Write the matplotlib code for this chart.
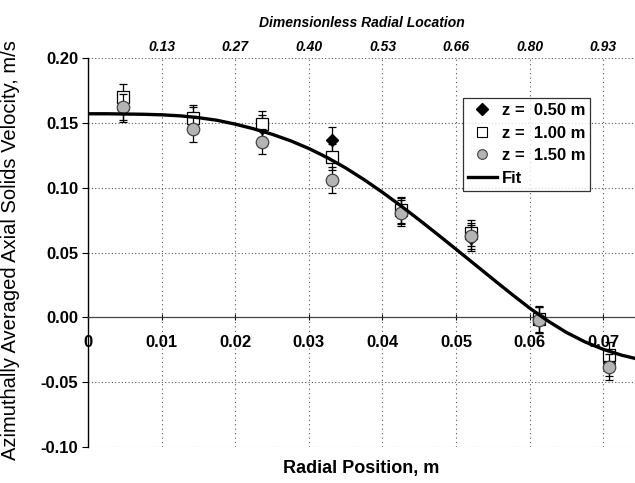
import matplotlib
matplotlib.use("Agg")
import matplotlib.pyplot as plt
from matplotlib.lines import Line2D

plt.rcParams['font.family'] = ['Liberation Sans', 'DejaVu Sans']

# radial positions of the measurement ports (m)
r_pos = [0.0048, 0.0143, 0.0237, 0.0331, 0.0425, 0.0520, 0.0613, 0.0708]

# azimuthally averaged axial solids velocity (m/s) at three heights
v_z050 = [0.161, 0.152, 0.146, 0.1366, 0.082, 0.061, -0.002, -0.035]
v_z100 = [0.170, 0.154, 0.149, 0.1237, 0.083, 0.065, -0.001, -0.0293]
v_z150 = [0.162, 0.145, 0.1356, 0.1057, 0.0805, 0.0625, -0.002, -0.038]
err = 0.01

# fitted profile
r_fit = [0.0, 0.0025, 0.005, 0.0075, 0.01, 0.0125, 0.015, 0.0175, 0.02, 0.0225,
         0.025, 0.0275, 0.03, 0.0325, 0.035, 0.0375, 0.04, 0.0425, 0.045, 0.0475,
         0.05, 0.0525, 0.055, 0.0575, 0.06, 0.0625, 0.065, 0.0675, 0.07, 0.0725, 0.075]
v_fit = [0.1570, 0.1570, 0.1568, 0.1566, 0.1562, 0.1554, 0.1540, 0.1520, 0.1490, 0.1454,
         0.1412, 0.1362, 0.1302, 0.1232, 0.1152, 0.1062, 0.0964, 0.0860, 0.0751, 0.0639,
         0.0525, 0.0410, 0.0295, 0.0181, 0.0071, -0.0029, -0.0117, -0.0189, -0.0247, -0.0292, -0.0326]

x_ticks = [0.01, 0.02, 0.03, 0.04, 0.05, 0.06, 0.07]
top_labels = ['0.13', '0.27', '0.40', '0.53', '0.66', '0.80', '0.93']
y_ticks = [-0.10, -0.05, 0.00, 0.05, 0.10, 0.15, 0.20]

fig = plt.figure(figsize=(6.35, 4.83), dpi=100)
ax = fig.add_axes([0.1386, 0.0745, 0.8614, 0.8054])
ax.set_xlim(0, 0.0743)
ax.set_ylim(-0.10, 0.20)

# dotted grid
for xv in x_ticks:
    ax.axvline(xv, color='#555555', lw=0.8, ls=(0, (1, 3)), zorder=1)
for yv in [-0.10, -0.05, 0.05, 0.10, 0.15, 0.20]:
    ax.axhline(yv, color='#555555', lw=0.8, ls=(0, (1, 2)), zorder=1)

ebar = dict(ecolor='black', elinewidth=0.9, capsize=3, capthick=0.9)
ax.errorbar(r_pos, v_z050, yerr=err, fmt='D', ms=6, mfc='black', mec='black',
            zorder=3, **ebar)
ax.errorbar(r_pos, v_z100, yerr=err, fmt='s', ms=8, mfc='white', mec='black', mew=0.9,
            zorder=4, **ebar)
ax.errorbar(r_pos, v_z150, yerr=err, fmt='o', ms=9, mfc='#b4b4b4', mec='#444444', mew=0.9,
            zorder=5, **ebar)
ax.plot(r_fit, v_fit, color='black', lw=2.4, zorder=6)

# axes lines: solid left spine and x-axis through zero
for s in ['top', 'right']:
    ax.spines[s].set_visible(False)
ax.spines['left'].set_linewidth(1.0)
ax.spines['bottom'].set_position(('data', 0))
ax.spines['bottom'].set_color('#444444')
ax.spines['bottom'].set_linewidth(0.9)

ax.set_xticks([0] + x_ticks)
ax.set_xticklabels(['0'] + ['%.2f' % v for v in x_ticks], fontsize=12, fontweight='bold')
ax.tick_params(axis='x', direction='inout', length=5, width=0.8, pad=10)
ax.set_yticks(y_ticks)
ax.set_yticklabels(['%.2f' % v for v in y_ticks], fontsize=12, fontweight='bold')
ax.tick_params(axis='y', direction='out', length=4, width=0.8, pad=3)

ax.set_ylabel('Azimuthally Averaged Axial Solids Velocity, m/s', fontsize=14.5)
ax.yaxis.set_label_coords(-0.124, 0.506)
ax.text(0.5, -0.055, 'Radial Position, m', transform=ax.transAxes, ha='center',
        va='center', fontsize=13, fontweight='bold')

top = ax.secondary_xaxis('top')
top.set_xticks(x_ticks)
top.set_xticklabels(top_labels, fontsize=10, fontweight='bold', fontstyle='italic')
top.tick_params(length=0, pad=3)
top.spines['top'].set_visible(False)
top.set_xlabel('Dimensionless Radial Location', fontsize=10, fontweight='bold',
               fontstyle='italic', labelpad=9)

handles = [
    Line2D([], [], ls='none', marker='D', ms=6, mfc='black', mec='black'),
    Line2D([], [], ls='none', marker='s', ms=7, mfc='white', mec='black', mew=0.8),
    Line2D([], [], ls='none', marker='o', ms=7, mfc='#b4b4b4', mec='#444444', mew=0.8),
    Line2D([], [], color='black', lw=2.4),
]
labels = ['z =  0.50 m', 'z =  1.00 m', 'z =  1.50 m', 'Fit']
leg = ax.legend(handles, labels, loc='upper left', bbox_to_anchor=(0.686, 0.897),
                prop={'weight': 'bold', 'size': 12}, frameon=True, fancybox=False,
                handlelength=1.7, handletextpad=0.3, borderpad=0.3, labelspacing=0.45,
                borderaxespad=0)
leg.get_frame().set_edgecolor('black')
leg.get_frame().set_linewidth(0.9)

fig.savefig('out.png', dpi=100)
